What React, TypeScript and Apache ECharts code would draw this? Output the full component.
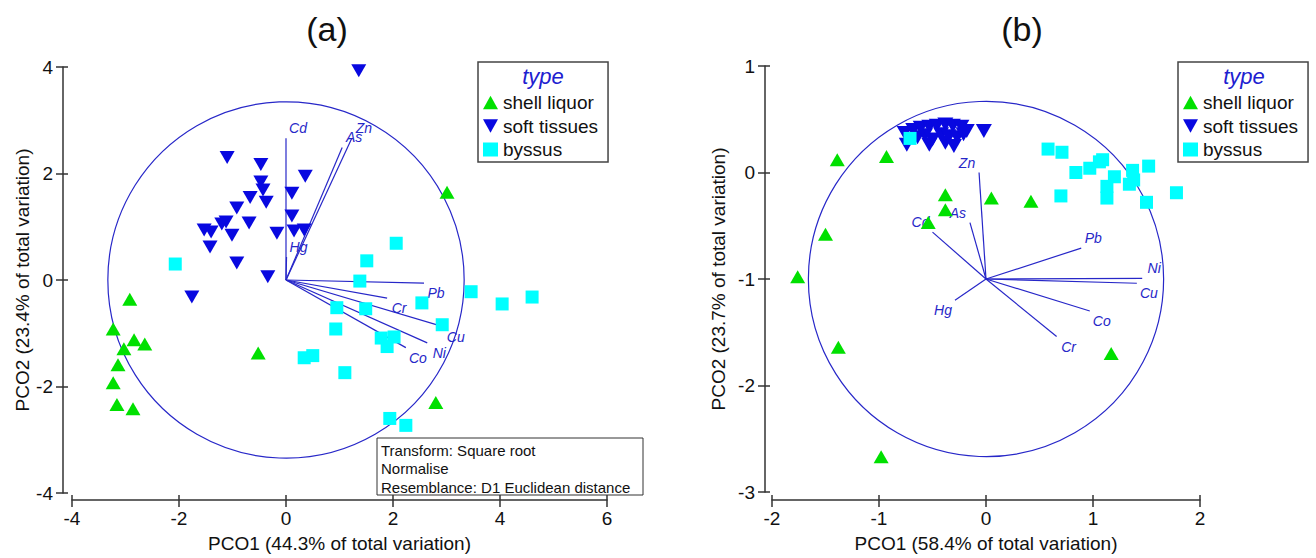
import React, { useEffect, useRef } from "react";
import * as echarts from "echarts";

const FONT = "'Liberation Sans', Arial, sans-serif";
const GREEN = "#00e000";
const DBLUE = "#0808e0";
const CYAN = "#00ffff";
const LINE = "#2727c8";
const UP = "path://M5,0L10,9L0,9Z";
const DOWN = "path://M0,0L10,0L5,9Z";

// ---- panel (a) ----
const shellA = [[-2.92, -0.36], [-3.23, -0.92], [-2.84, -1.12], [-2.64, -1.2], [-3.03, -1.29], [-3.14, -1.59], [-3.23, -1.93], [-3.16, -2.34], [-2.86, -2.42], [-0.52, -1.37], [3.01, 1.65], [2.8, -2.3]];
const softA = [[1.36, 3.93], [-1.1, 2.3], [-0.47, 2.17], [0.36, 1.95], [-0.47, 1.84], [-0.43, 1.69], [0.11, 1.63], [-0.67, 1.55], [-0.37, 1.46], [-0.92, 1.35], [0.11, 1.2], [-1.12, 1.09], [-0.69, 1.07], [-1.53, 0.94], [-1.4, 0.9], [-1.2, 1.05], [-1.01, 0.84], [-0.17, 0.88], [0.15, 0.92], [0.34, 0.94], [-1.42, 0.62], [-0.92, 0.32], [-0.34, 0.06], [-1.76, -0.32]];
const byssusA = [[-2.07, 0.3], [2.06, 0.69], [1.51, 0.36], [1.38, -0.02], [3.46, -0.22], [4.04, -0.45], [4.6, -0.32], [2.54, -0.43], [2.92, -0.84], [0.95, -0.52], [1.49, -0.54], [0.93, -0.92], [1.78, -1.09], [2.02, -1.07], [1.89, -1.25], [0.34, -1.46], [0.5, -1.42], [1.1, -1.74], [1.94, -2.6], [2.24, -2.73]];
const vecNamesA = ["Cd", "As", "Zn", "Hg", "Pb", "Cr", "Cu", "Ni", "Co"];
const vecEndsA = [[0, 2.66], [1.05, 2.49], [1.23, 2.66], [0.01, 0.43], [2.58, -0.06], [1.89, -0.34], [2.95, -0.88], [2.64, -1.18], [2.24, -1.27]];
const originA = [0, 0];
const radiusA = 3.33;

// ---- panel (b) ----
const shellB = [[-1.39, 0.12], [-0.93, 0.15], [-0.38, -0.21], [-0.38, -0.35], [-0.54, -0.47], [0.05, -0.24], [0.42, -0.27], [-1.5, -0.58], [-1.76, -0.98], [-1.38, -1.64], [-0.98, -2.67], [1.17, -1.7]];
const softB = [[-0.76, 0.37], [-0.68, 0.4], [-0.61, 0.42], [-0.53, 0.43], [-0.46, 0.44], [-0.38, 0.45], [-0.31, 0.44], [-0.23, 0.43], [-0.18, 0.39], [-0.64, 0.33], [-0.57, 0.35], [-0.5, 0.31], [-0.42, 0.36], [-0.35, 0.34], [-0.27, 0.33], [-0.21, 0.36], [-0.53, 0.26], [-0.38, 0.28], [-0.74, 0.26], [-0.3, 0.25], [-0.02, 0.39]];
const byssusB = [[-0.71, 0.32], [0.58, 0.22], [0.71, 0.19], [0.84, 0.0], [0.97, 0.04], [1.06, 0.1], [1.09, 0.12], [1.37, 0.02], [1.52, 0.06], [1.2, -0.04], [1.13, -0.13], [1.13, -0.24], [1.34, -0.11], [1.38, -0.07], [1.5, -0.28], [1.78, -0.19], [0.7, -0.22]];
const vecNamesB = ["Zn", "As", "Cd", "Hg", "Pb", "Ni", "Cu", "Co", "Cr"];
const vecEndsB = [[-0.065, 0.0], [-0.15, -0.47], [-0.5, -0.56], [-0.29, -1.2], [0.89, -0.71], [1.46, -0.995], [1.41, -1.04], [0.97, -1.3], [0.66, -1.54]];
const originB = [0, -1];
const radiusB = 1.66;

const titlesPanel = ["(a)", "(b)"];
const xNames = ["PCO1 (44.3% of total variation)", "PCO1 (58.4% of total variation)"];
const yNames = ["PCO2 (23.4% of total variation)", "PCO2 (23.7% of total variation)"];
const noteLines = ["Transform: Square root", "Normalise", "Resemblance: D1 Euclidean distance"];
const legendNames = ["shell liquor", "soft tissues", "byssus"];

function xAxes(gridIndex: number, min: number, max: number, interval: number, offset: number, name: string) {
  return [
    {
      type: "value", gridIndex, min, max, interval, position: "bottom", offset,
      name, nameLocation: "middle", nameGap: 34,
      nameTextStyle: { fontFamily: FONT, fontSize: 19, color: "#111" },
      splitLine: { show: false },
      axisLine: { show: true, onZero: false, lineStyle: { color: "#333", width: 1.5 } },
      axisTick: { show: true, inside: false, length: 7, lineStyle: { color: "#333", width: 1.5 } },
      axisLabel: { fontFamily: FONT, fontSize: 19, color: "#111", margin: 9 },
    },
    {
      type: "value", gridIndex, min, max, interval, position: "bottom", offset,
      splitLine: { show: false },
      axisLine: { show: false, onZero: false },
      axisTick: { show: true, inside: true, length: 5, lineStyle: { color: "#333", width: 1.5 } },
      axisLabel: { show: false },
    },
  ];
}

function yAxes(gridIndex: number, min: number, max: number, interval: number, offset: number, name: string, nameGap: number) {
  return [
    {
      type: "value", gridIndex, min, max, interval, position: "left", offset,
      name, nameLocation: "middle", nameGap,
      nameTextStyle: { fontFamily: FONT, fontSize: 19, color: "#111" },
      splitLine: { show: false },
      axisLine: { show: true, onZero: false, lineStyle: { color: "#333", width: 1.5 } },
      axisTick: { show: true, inside: false, length: 7, lineStyle: { color: "#333", width: 1.5 } },
      axisLabel: { fontFamily: FONT, fontSize: 19, color: "#111", margin: 10 },
    },
    {
      type: "value", gridIndex, min, max, interval, position: "left", offset,
      splitLine: { show: false },
      axisLine: { show: false, onZero: false },
      axisTick: { show: true, inside: true, length: 5, lineStyle: { color: "#333", width: 1.5 } },
      axisLabel: { show: false },
    },
  ];
}

function circleSeries(axisIndex: number, center: number[], r: number) {
  return {
    type: "custom", xAxisIndex: axisIndex, yAxisIndex: axisIndex, silent: true, z: 1,
    data: [[center[0], center[1], r]],
    renderItem: (_p: any, api: any) => {
      const c = api.coord([api.value(0), api.value(1)]);
      const rp = api.size([api.value(2), 0])[0];
      return { type: "circle", shape: { cx: c[0], cy: c[1], r: rp }, style: { fill: "none", stroke: LINE, lineWidth: 1.2 } };
    },
  };
}

function vectorSeries(axisIndex: number, names: string[], ends: number[][], origin: number[]) {
  return {
    type: "custom", xAxisIndex: axisIndex, yAxisIndex: axisIndex, silent: true, z: 2,
    data: ends.map((e) => [e[0], e[1]]),
    renderItem: (p: any, api: any) => {
      const x = api.value(0);
      const y = api.value(1);
      const o = api.coord(origin);
      const e = api.coord([x, y]);
      const dx = x - origin[0];
      const dy = y - origin[1];
      const lx = e[0] + (dx >= 0 ? 12 : -12);
      const ly = e[1] + (dy >= 0 ? -10 : 10);
      return {
        type: "group",
        children: [
          { type: "line", shape: { x1: o[0], y1: o[1], x2: e[0], y2: e[1] }, style: { stroke: LINE, lineWidth: 1.2 } },
          {
            type: "text", x: lx, y: ly,
            style: { text: names[p.dataIndex], fill: LINE, fontFamily: FONT, fontSize: 14, fontStyle: "italic", align: "center", verticalAlign: "middle" },
          },
        ],
      };
    },
  };
}

function scatterSeries(axisIndex: number, name: string, data: number[][], symbol: string, size: number[], color: string, z: number) {
  return { type: "scatter", name, xAxisIndex: axisIndex, yAxisIndex: axisIndex, data, symbol, symbolSize: size, itemStyle: { color, opacity: 1 }, z };
}

function legendAt(left: number) {
  return {
    orient: "vertical", left, top: 62, padding: [31, 10, 3, 5], itemGap: 4.5, itemWidth: 15, itemHeight: 14,
    borderColor: "#444", borderWidth: 1.5, selectedMode: false,
    textStyle: { fontFamily: FONT, fontSize: 19, color: "#111", lineHeight: 16 },
    data: [
      { name: legendNames[0], icon: UP },
      { name: legendNames[1], icon: DOWN },
      { name: legendNames[2], icon: "rect" },
    ],
  };
}

export default function App() {
  const ref = useRef<HTMLDivElement>(null);
  useEffect(() => {
    const chart = echarts.init(ref.current!, null, { renderer: "svg" });
    const option: any = {
      animation: false,
      backgroundColor: "#ffffff",
      title: [
        { text: titlesPanel[0], left: 327, top: 12, textAlign: "center", padding: 0, textStyle: { fontFamily: FONT, fontSize: 34, fontWeight: "normal", color: "#111" } },
        { text: titlesPanel[1], left: 1022, top: 12, textAlign: "center", padding: 0, textStyle: { fontFamily: FONT, fontSize: 34, fontWeight: "normal", color: "#111" } },
      ],
      grid: [
        { left: 72, top: 67, width: 535, height: 427 },
        { left: 772, top: 66, width: 428, height: 429 },
      ],
      xAxis: [...xAxes(0, -4, 6, 2, 7, xNames[0]), ...xAxes(1, -2, 2, 1, 8, xNames[1])],
      yAxis: [...yAxes(0, -4, 4, 2, 9, yNames[0], 30), ...yAxes(1, -3, 1, 1, 7, yNames[1], 37)],
      legend: [legendAt(478), legendAt(1178)],
      graphic: [
        { type: "text", x: 543, y: 76, style: { text: "type", fill: "#2020d0", fontFamily: FONT, fontSize: 22, fontStyle: "italic", align: "center", verticalAlign: "middle", textAlign: "center", textVerticalAlign: "middle" } },
        { type: "text", x: 1244, y: 76, style: { text: "type", fill: "#2020d0", fontFamily: FONT, fontSize: 22, fontStyle: "italic", align: "center", verticalAlign: "middle", textAlign: "center", textVerticalAlign: "middle" } },
        { type: "rect", shape: { x: 377, y: 438, width: 266, height: 57 }, style: { fill: "#ffffff", stroke: "#333", lineWidth: 1 }, z: 10 },
        { type: "text", x: 381, y: 441, z: 11, style: { text: noteLines.join("\n"), fill: "#111", fontFamily: FONT, fontSize: 15, lineHeight: 18.5 } },
      ],
      series: [
        circleSeries(0, originA, radiusA),
        vectorSeries(0, vecNamesA, vecEndsA, originA),
        scatterSeries(0, legendNames[0], shellA, UP, [15, 13], GREEN, 3),
        scatterSeries(0, legendNames[1], softA, DOWN, [15, 13], DBLUE, 4),
        scatterSeries(0, legendNames[2], byssusA, "rect", [13, 13], CYAN, 5),
        circleSeries(2, originB, radiusB),
        vectorSeries(2, vecNamesB, vecEndsB, originB),
        scatterSeries(2, legendNames[0], shellB, UP, [15, 13], GREEN, 3),
        scatterSeries(2, legendNames[1], softB, DOWN, [16, 14], DBLUE, 4),
        scatterSeries(2, legendNames[2], byssusB, "rect", [13, 13], CYAN, 5),
      ],
    };
    chart.setOption(option);
    return () => chart.dispose();
  }, []);
  return <div ref={ref} style={{ position: "fixed", left: 0, top: 0, width: 1316, height: 558, background: "#fff" }} />;
}
